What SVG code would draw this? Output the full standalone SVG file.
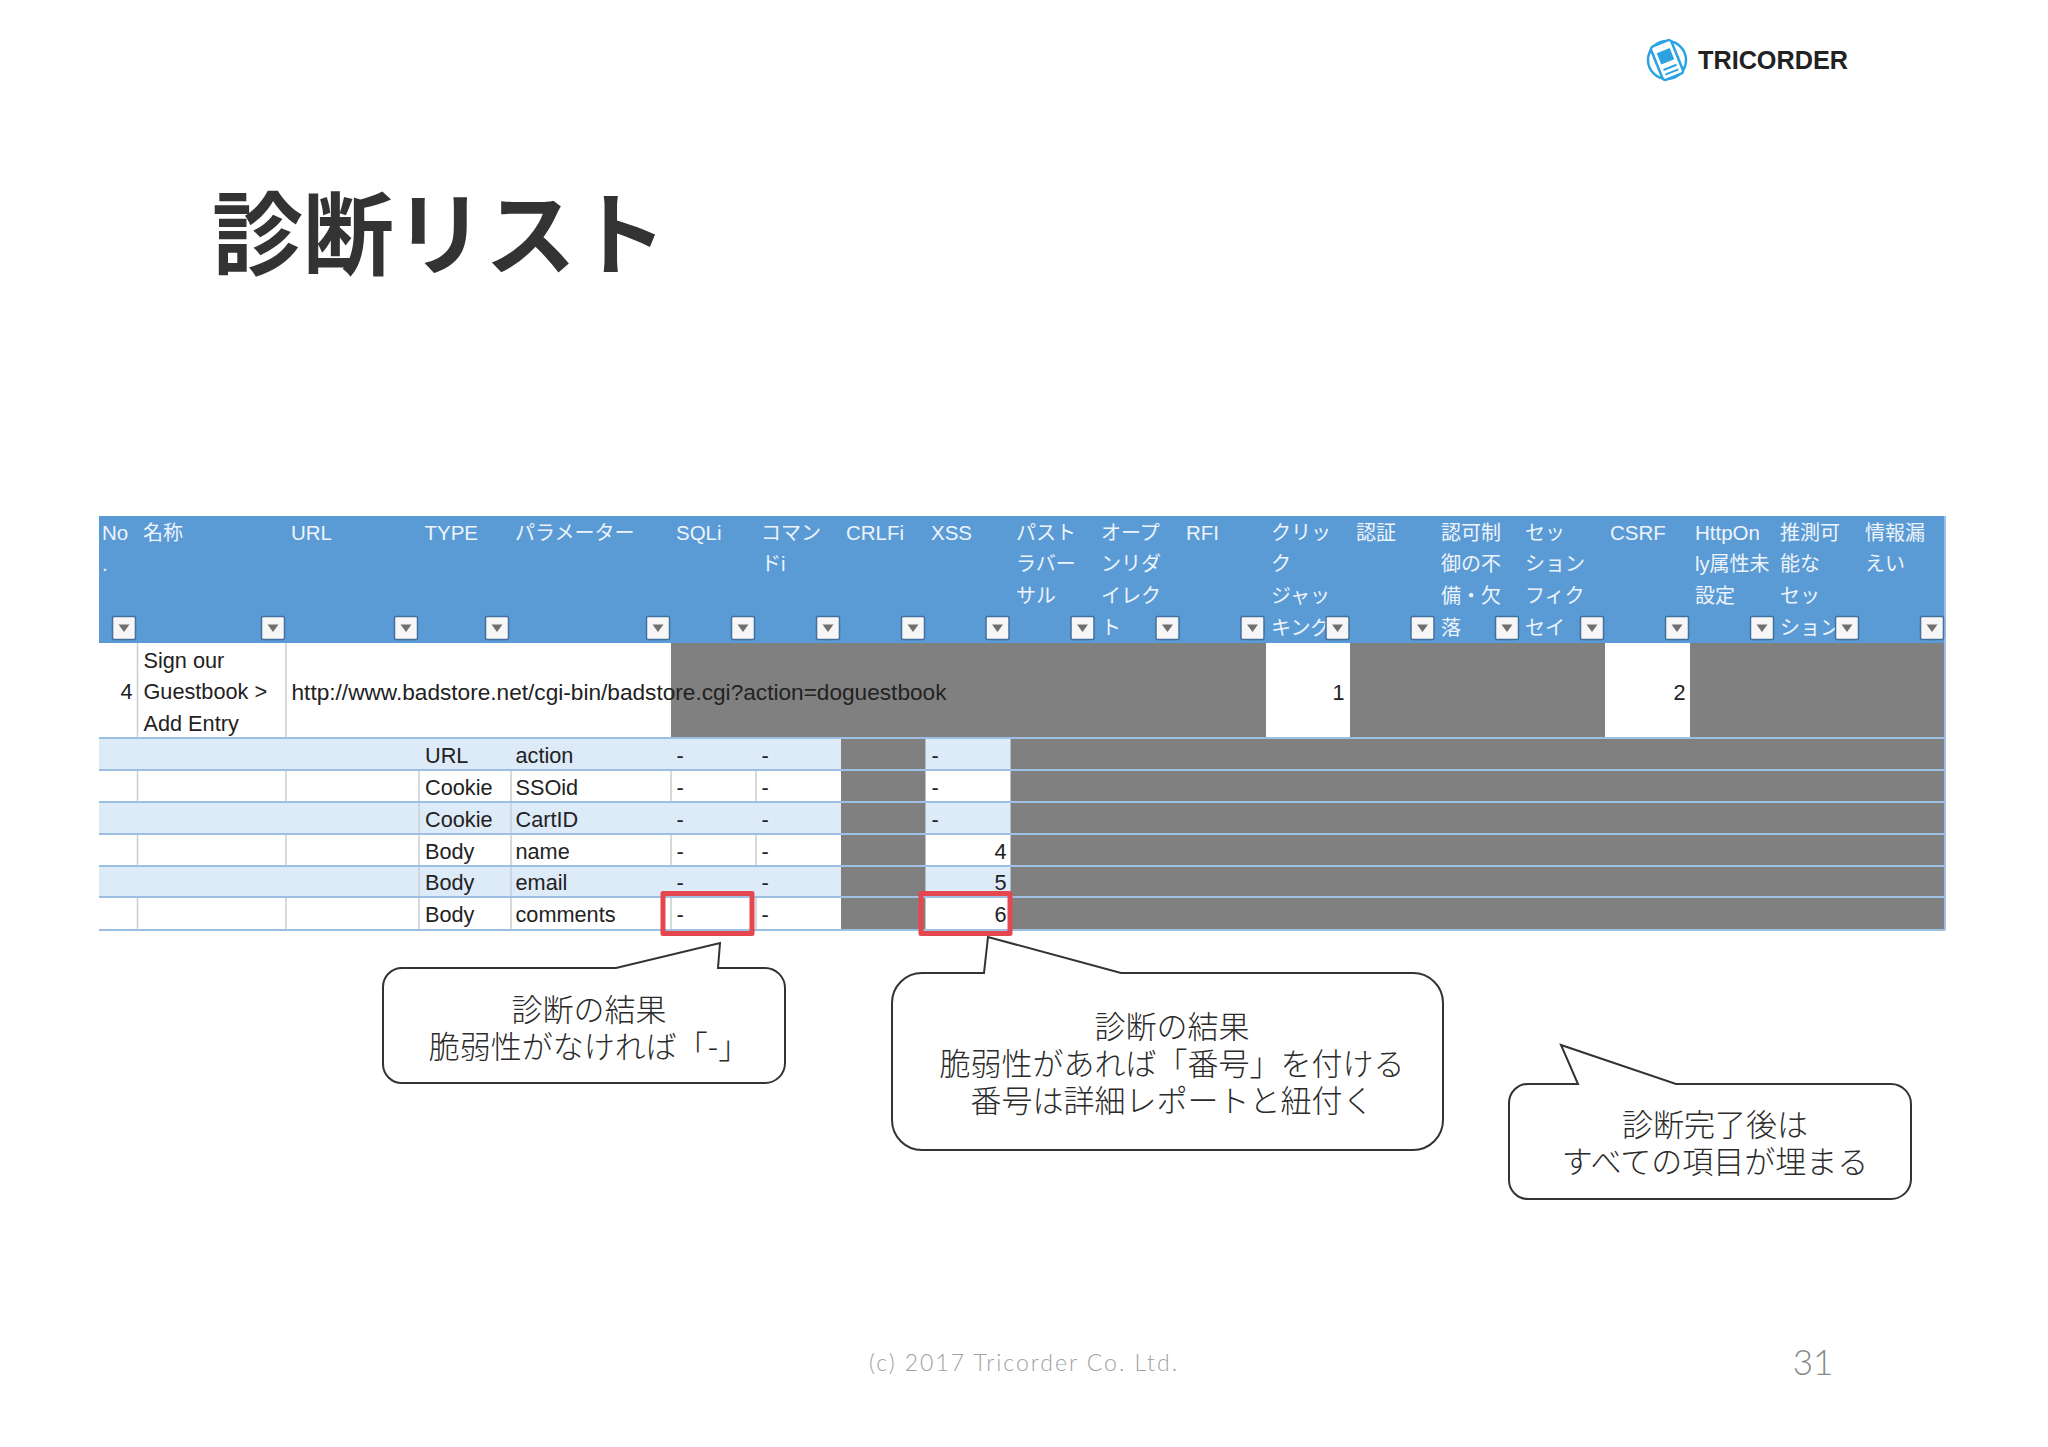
<svg xmlns="http://www.w3.org/2000/svg" width="2048" height="1447" viewBox="0 0 2048 1447">
<style>
text{font-family:"Liberation Sans","Noto Sans CJK JP",sans-serif}
.h{font-size:20.5px;fill:#eef4fb}
.j{font-size:20px;fill:#eef4fb}
.c{font-size:21.700px;fill:#222}
.r{font-size:21.700px;fill:#222;text-anchor:end}
.gray{fill:#808080}
.lt{fill:#ddeaf7}
.vl{stroke:#c9ced4;stroke-width:1.5;fill:none}
.hl{stroke:#9dbfe3;stroke-width:2;fill:none}
.red{fill:none;stroke:#e5474f;stroke-width:5;stroke-linejoin:round}
.call{fill:#fff;stroke:#333;stroke-width:2}
.ct{font-family:"Noto Sans CJK JP",sans-serif;font-size:31px;font-weight:300;fill:#2b2b2b;text-anchor:middle}
</style>
<defs>
<g id="btn"><rect x="0.5" y="0.5" width="23" height="23" rx="1.5" fill="#f6f6f6" stroke="#41709f" stroke-width="1.5"/><path d="M6.5 8.5H17.5L12 16Z" fill="#707070"/></g>
</defs>
<rect width="2048" height="1447" fill="#fff"/>
<g id="logo">
<circle cx="1667" cy="60" r="19" fill="none" stroke="#2ba3e3" stroke-width="2.5"/>
<g transform="rotate(-22 1667 60)"><rect x="1656" y="42" width="22" height="36" rx="3" fill="#fff" stroke="#2ba3e3" stroke-width="2.5"/><rect x="1660" y="50" width="14" height="12" fill="#2ba3e3"/><path d="M1660 68H1674M1660 73H1674" stroke="#2ba3e3" stroke-width="2"/></g>
<text x="1698" y="69" font-size="25" font-weight="700" fill="#222" textLength="150" lengthAdjust="spacingAndGlyphs">TRICORDER</text>
</g>
<text id="title" x="212" y="268" font-size="91" font-weight="700" fill="#333" style="font-family:'Noto Sans CJK JP',sans-serif">診断リスト</text>
<g id="table">
<rect x="99" y="516" width="1846" height="127.500" fill="#5b9bd5"/>
<rect x="99" y="643" width="572" height="95" fill="#fff"/>
<rect x="671" y="643" width="1274" height="95" class="gray"/>
<rect x="1266" y="643" width="84" height="95" fill="#fff"/>
<rect x="1605" y="643" width="85" height="95" fill="#fff"/>
<rect x="99" y="738" width="742" height="32" class="lt"/>
<rect x="99" y="802" width="742" height="32" class="lt"/>
<rect x="99" y="866" width="742" height="31" class="lt"/>
<rect x="925.500" y="738" width="85" height="32" class="lt"/>
<rect x="925.500" y="802" width="85" height="32" class="lt"/>
<rect x="925.500" y="866" width="85" height="31" class="lt"/>
<rect x="841" y="738" width="84.500" height="192" class="gray"/>
<rect x="1010.500" y="738" width="934.500" height="192" class="gray"/>
<path class="vl" d="M137.500 643V738M286 643V738M137.500 770V802M286 770V802M419 770V802M511 770V802M671 770V802M756 770V802M137.500 834V866M286 834V866M419 834V866M511 834V866M671 834V866M756 834V866M137.500 897V930M286 897V930M419 897V930M511 897V930M671 897V930M756 897V930M419 802V834M511 802V834M419 866V897M511 866V897"/>
<path class="hl" d="M99 738H1945M99 770H1945M99 802H1945M99 834H1945M99 866H1945M99 897H1945M99 930H1945M1945 516V930"/>
<g id="header-text" transform="translate(0 0.700)">
<text class="h" x="102" y="539">No</text><text class="h" x="102" y="570">.</text>
<text class="j" x="143" y="539">名称</text>
<text class="h" x="291" y="539">URL</text>
<text class="h" x="424.500" y="539">TYPE</text>
<text class="j" x="515" y="539">パラメーター</text>
<text class="h" x="676" y="539">SQLi</text>
<text class="j" x="761" y="539">コマン</text><text class="j" x="761" y="570">ドi</text>
<text class="h" x="846" y="539">CRLFi</text>
<text class="h" x="931" y="539">XSS</text>
<text class="j" x="1016" y="539">パスト</text><text class="j" x="1016" y="570">ラバー</text><text class="j" x="1016" y="602">サル</text>
<text class="j" x="1101" y="539">オープ</text><text class="j" x="1101" y="570">ンリダ</text><text class="j" x="1101" y="602">イレク</text><text class="j" x="1101" y="634">ト</text>
<text class="h" x="1186" y="539">RFI</text>
<text class="j" x="1271" y="539">クリッ</text><text class="j" x="1271" y="570">ク</text><text class="j" x="1271" y="602">ジャッ</text><text class="j" x="1271" y="634">キング</text>
<text class="j" x="1356" y="539">認証</text>
<text class="j" x="1441" y="539">認可制</text><text class="j" x="1441" y="570">御の不</text><text class="j" x="1441" y="602">備・欠</text><text class="j" x="1441" y="634">落</text>
<text class="j" x="1525" y="539">セッ</text><text class="j" x="1525" y="570">ション</text><text class="j" x="1525" y="602">フィク</text><text class="j" x="1525" y="634">セイ</text>
<text class="h" x="1610" y="539">CSRF</text>
<text class="h" x="1695" y="539">HttpOn</text><text class="j" x="1695" y="570">ly属性未</text><text class="j" x="1695" y="602">設定</text>
<text class="j" x="1780" y="539">推測可</text><text class="j" x="1780" y="570">能な</text><text class="j" x="1780" y="602">セッ</text><text class="j" x="1780" y="634">ション</text>
<text class="j" x="1865" y="539">情報漏</text><text class="j" x="1865" y="570">えい</text>
</g>
<g id="filter-buttons">
<use href="#btn" x="112" y="616"/><use href="#btn" x="261" y="616"/><use href="#btn" x="394" y="616"/><use href="#btn" x="485" y="616"/><use href="#btn" x="646" y="616"/><use href="#btn" x="731" y="616"/><use href="#btn" x="816" y="616"/><use href="#btn" x="901" y="616"/><use href="#btn" x="985.500" y="616"/><use href="#btn" x="1070.500" y="616"/><use href="#btn" x="1155.500" y="616"/><use href="#btn" x="1240.500" y="616"/><use href="#btn" x="1325.500" y="616"/><use href="#btn" x="1410.500" y="616"/><use href="#btn" x="1495" y="616"/><use href="#btn" x="1580" y="616"/><use href="#btn" x="1665" y="616"/><use href="#btn" x="1750" y="616"/><use href="#btn" x="1835" y="616"/><use href="#btn" x="1920" y="616"/>
</g>
<g id="row-text" transform="translate(0.500 0.700)">
<text class="r" x="132" y="698">4</text>
<text class="c" x="143" y="667">Sign our</text><text class="c" x="143" y="698">Guestbook &gt;</text><text class="c" x="143" y="730">Add Entry</text>
<text class="c" x="291" y="699" textLength="655" lengthAdjust="spacingAndGlyphs">http://www.badstore.net/cgi-bin/badstore.cgi?action=doguestbook</text>
<text class="r" x="1344" y="699">1</text><text class="r" x="1685" y="699">2</text>
<text class="c" x="424.500" y="762">URL</text><text class="c" x="515" y="762">action</text>
<text class="c" x="424.500" y="794">Cookie</text><text class="c" x="515" y="794">SSOid</text>
<text class="c" x="424.500" y="826">Cookie</text><text class="c" x="515" y="826">CartID</text>
<text class="c" x="424.500" y="858">Body</text><text class="c" x="515" y="858">name</text>
<text class="c" x="424.500" y="889">Body</text><text class="c" x="515" y="889">email</text>
<text class="c" x="424.500" y="921">Body</text><text class="c" x="515" y="921">comments</text>
<text class="c" x="676" y="762">-</text><text class="c" x="761" y="762">-</text><text class="c" x="931" y="762">-</text>
<text class="c" x="676" y="794">-</text><text class="c" x="761" y="794">-</text><text class="c" x="931" y="794">-</text>
<text class="c" x="676" y="826">-</text><text class="c" x="761" y="826">-</text><text class="c" x="931" y="826">-</text>
<text class="c" x="676" y="858">-</text><text class="c" x="761" y="858">-</text><text class="r" x="1006" y="858">4</text>
<text class="c" x="676" y="889">-</text><text class="c" x="761" y="889">-</text><text class="r" x="1006" y="889">5</text>
<text class="c" x="676" y="921">-</text><text class="c" x="761" y="921">-</text><text class="r" x="1006" y="921">6</text>
</g>
</g>
<g id="highlights">
<rect class="red" x="663" y="893.500" width="89" height="40"/>
<rect class="red" x="921" y="893.500" width="89" height="40"/>
</g>
<g id="callout-1">
<path class="call" d="M402 968H616L720 943L718 968H765A20 20 0 0 1 785 988V1063A20 20 0 0 1 765 1083H402A19 19 0 0 1 383 1064V987A19 19 0 0 1 402 968Z"/>
<text class="ct" x="589" y="1021">診断の結果</text><text class="ct" x="589" y="1058">脆弱性がなければ「-」</text>
</g>
<g id="callout-2">
<path class="call" d="M922 973H984L988 937L1121 973H1413A30 30 0 0 1 1443 1003V1120A30 30 0 0 1 1413 1150H922A30 30 0 0 1 892 1120V1003A30 30 0 0 1 922 973Z"/>
<text class="ct" x="1172" y="1038">診断の結果</text><text class="ct" x="1172" y="1075">脆弱性があれば「番号」を付ける</text><text class="ct" x="1172" y="1112">番号は詳細レポートと紐付く</text>
</g>
<g id="callout-3">
<path class="call" d="M1528 1084H1578L1561 1045L1676 1084H1891A20 20 0 0 1 1911 1104V1179A20 20 0 0 1 1891 1199H1528A19 19 0 0 1 1509 1180V1103A19 19 0 0 1 1528 1084Z"/>
<text class="ct" x="1715" y="1136">診断完了後は</text><text class="ct" x="1715" y="1173">すべての項目が埋まる</text>
</g>
<text id="copyright" x="1023" y="1371" font-size="23" font-weight="300" fill="#a0a0a0" text-anchor="middle" textLength="308" style="font-family:'Lato',sans-serif">(c) 2017 Tricorder Co. Ltd.</text>
<text id="page" x="1813" y="1375" font-size="35" font-weight="300" fill="#8a8a8a" text-anchor="middle" style="font-family:'Lato',sans-serif">31</text>
</svg>
